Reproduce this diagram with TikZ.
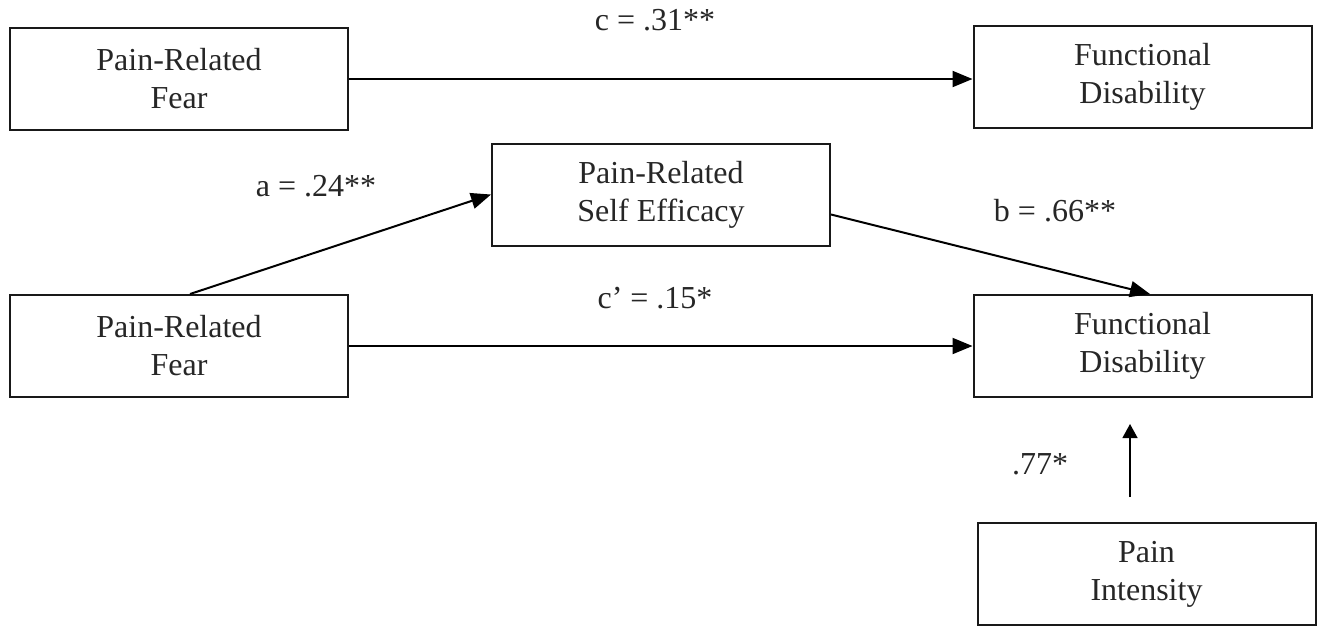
\documentclass[tikz,border=0pt]{standalone}
\usepackage{fontspec}
\setmainfont{Liberation Serif}
\usetikzlibrary{arrows.meta}
\begin{document}
\begin{tikzpicture}[x=0.5pt,y=-0.5pt,
  box/.style={draw=black!90, line width=1pt, minimum width=169pt, minimum height=51pt, align=center, inner sep=0pt, font=\fontsize{16}{19}\selectfont, text=black!85},
  lbl/.style={font=\fontsize{16}{19}\selectfont, text=black!85, inner sep=0pt},
  arr/.style={line width=1pt, -{Triangle[length=10pt,width=8pt]}},
  arrthin/.style={line width=0.7pt, -{Triangle[length=7pt,width=7.5pt]}}]
\useasboundingbox (0,0) rectangle (1321,629);
\node[box] (f1) at (179,79) {Pain-Related\\Fear};
\node[box] (fd1) at (1142.5,77) {Functional\\Disability};
\node[box] (se) at (661,194.5) {Pain-Related\\Self Efficacy};
\node[box] (f2) at (179,346) {Pain-Related\\Fear};
\node[box] (fd2) at (1142.5,346) {Functional\\Disability};
\node[box] (pi) at (1146.5,574) {Pain\\Intensity};
\coordinate (s77) at (1130,497);
\coordinate (e77) at (1130,424);
\draw[arr] (f1.east) -- (fd1.west |- f1.east);
\draw[arr] ([xshift=5.5pt]f2.north) -- (se.west);
\draw[arr] ([yshift=-10pt]se.east) -- ([xshift=3.75pt]fd2.north);
\draw[arr] (f2.east) -- (fd2.west |- f2.east);
\draw[arrthin] (s77) -- (e77);
\node[lbl] (lc) at (655,20) {c = .31**};
\node[lbl] (la) at (316,186) {a = .24**};
\node[lbl] (lb) at (1055,211) {b = .66**};
\node[lbl] (lcp) at (655,298) {c’ = .15*};
\node[lbl] (l77) at (1040,464) {.77*};
\end{tikzpicture}
\end{document}
